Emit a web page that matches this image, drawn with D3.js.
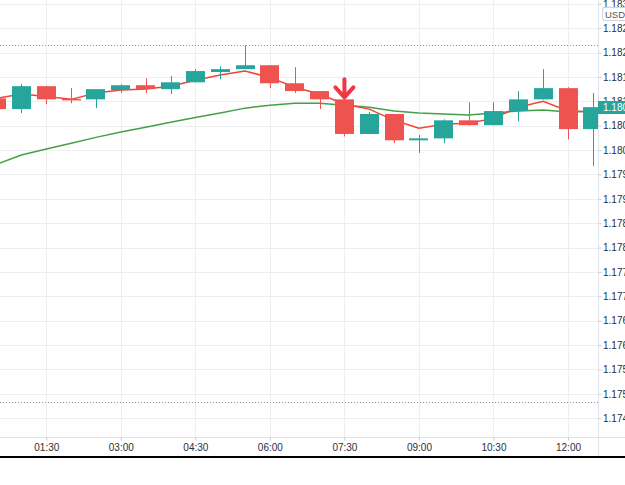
<!DOCTYPE html>
<html>
<head>
<meta charset="utf-8">
<script src="https://cdn.jsdelivr.net/npm/d3@7"></script>
<style>
  html, body { margin: 0; padding: 0; background: #fff; }
  svg { display: block; font-family: Roboto, "Liberation Sans", sans-serif; }
</style>
</head>
<body>
<svg id="chart" width="625" height="485"></svg>
<script>
// 30 minute EURUSD candles
const times = ["00:30","01:00","01:30","02:00","02:30","03:00","03:30","04:00","04:30","05:00",
  "05:30","06:00","06:30","07:00","07:30","08:00","08:30","09:00","09:30","10:00",
  "10:30","11:00","11:30","12:00","12:30"];
const opens  = [1.18106,1.18084,1.18131,1.18105,1.18104,1.18123,1.18133,1.18125,1.18139,1.18160,
  1.18166,1.18174,1.18137,1.18121,1.18104,1.18033,1.18074,1.18020,1.18024,1.18061,
  1.18051,1.18080,1.18104,1.18127,1.18043];
const highs  = [1.18108,1.18135,1.18132,1.18127,1.18125,1.18135,1.18147,1.18152,1.18166,1.18172,
  1.18215,1.18174,1.18170,1.18121,1.18104,1.18078,1.18074,1.18031,1.18063,1.18098,
  1.18098,1.18121,1.18166,1.18129,1.18117];
const lows   = [1.18080,1.18076,1.18094,1.18096,1.18086,1.18117,1.18117,1.18115,1.18139,1.18145,
  1.18166,1.18127,1.18117,1.18084,1.18028,1.18033,1.18014,1.17994,1.18014,1.18051,
  1.18051,1.18059,1.18104,1.18022,1.17967];
const closes = [1.18084,1.18131,1.18104,1.18102,1.18125,1.18133,1.18125,1.18139,1.18162,1.18166,
  1.18174,1.18137,1.18121,1.18104,1.18033,1.18074,1.18020,1.18024,1.18061,1.18051,
  1.18080,1.18104,1.18127,1.18043,1.18088];
const fastMA = [1.18106,1.18115,1.18110,1.18104,1.18117,1.18123,1.18125,1.18131,1.18143,1.18154,
  1.18162,1.18149,1.18129,1.18115,1.18094,1.18084,1.18061,1.18045,1.18053,1.18055,
  1.18065,1.18088,1.18100,1.18080,1.18078];
const slowMA = [1.17971,1.17990,1.18002,1.18014,1.18026,1.18037,1.18047,1.18057,1.18067,1.18076,
  1.18086,1.18092,1.18096,1.18096,1.18092,1.18088,1.18080,1.18076,1.18074,1.18072,
  1.18076,1.18080,1.18082,1.18078,1.18080];
const priceTicks = [1.1830,1.1825,1.1820,1.1815,1.1810,1.1805,1.1800,1.1795,1.1790,1.1785,
  1.1780,1.1775,1.1770,1.1765,1.1760,1.1755,1.1750,1.1745];
const timeTicks = ["01:30","03:00","04:30","06:00","07:30","09:00","10:30","12:00"];
const dottedLevels = [1.18215, 1.17483];
const sellSignals = ["07:30"];
const currency = "USD";

const W = 625, plotRight = 598, plotBottom = 437, axisBottom = 456;
const UP = "#26a69a", DOWN = "#ef5350";
const LABEL_FONT = "'Liberation Sans', Arial, sans-serif";

const parse = d3.timeParse("%H:%M");
const candles = times.map((t, i) => ({
  t: parse(t), o: opens[i], h: highs[i], l: lows[i], c: closes[i]
}));

const x = d3.scaleTime()
  .domain([parse("01:30"), parse("12:00")])
  .range([46.3, 568]);
const y = d3.scaleLinear()
  .domain([1.1745, 1.1830])
  .range([418.2, 3.8]);
const step = x(parse("02:00")) - x(parse("01:30"));
const bodyW = Math.round(step * 0.75);

const svg = d3.select("#chart");
svg.append("rect").attr("width", W).attr("height", 485).attr("fill", "#fff");

svg.append("clipPath").attr("id", "plot-clip")
  .append("rect").attr("width", plotRight).attr("height", plotBottom);

const plot = svg.append("g").attr("clip-path", "url(#plot-clip)");

// grid
plot.append("g").selectAll("line").data(priceTicks).join("line")
  .attr("x1", 0).attr("x2", plotRight)
  .attr("y1", d => Math.round(y(d)) + 0.5).attr("y2", d => Math.round(y(d)) + 0.5)
  .attr("stroke", "#eceef2");
plot.append("g").selectAll("line").data(timeTicks).join("line")
  .attr("x1", d => Math.round(x(parse(d))) + 0.5).attr("x2", d => Math.round(x(parse(d))) + 0.5)
  .attr("y1", 0).attr("y2", plotBottom)
  .attr("stroke", "#eceef2");

// dotted levels
plot.append("g").selectAll("line").data(dottedLevels).join("line")
  .attr("x1", 0).attr("x2", plotRight)
  .attr("y1", d => Math.round(y(d)) + 0.5).attr("y2", d => Math.round(y(d)) + 0.5)
  .attr("stroke", "#9598a1").attr("stroke-dasharray", "1,2");

// moving averages (behind candles)
const line = d3.line().x((d, i) => x(candles[i].t)).y(d => y(d));
plot.append("path").datum(slowMA).attr("d", line)
  .attr("fill", "none").attr("stroke", "#43a047").attr("stroke-width", 1.5);
plot.append("path").datum(fastMA).attr("d", line)
  .attr("fill", "none").attr("stroke", "#f44336").attr("stroke-width", 1.5);

// candles
const cg = plot.append("g").selectAll("g").data(candles).join("g");
cg.append("line")
  .attr("x1", d => Math.round(x(d.t)) + 0.5).attr("x2", d => Math.round(x(d.t)) + 0.5)
  .attr("y1", d => y(d.h)).attr("y2", d => y(d.l))
  .attr("stroke", d => d.c >= d.o ? UP : DOWN);
cg.append("rect")
  .attr("x", d => Math.round(x(d.t) - bodyW / 2))
  .attr("y", d => y(Math.max(d.o, d.c)))
  .attr("width", bodyW)
  .attr("height", d => Math.max(1.5, Math.abs(y(d.o) - y(d.c))))
  .attr("fill", d => d.c >= d.o ? UP : DOWN);

// sell arrows
sellSignals.forEach(s => {
  const d = candles[times.indexOf(s)];
  const cx = x(d.t), tip = y(d.h) - 2;
  plot.append("path")
    .attr("d", `M${cx},${tip - 18}L${cx},${tip - 1}M${cx - 9},${tip - 10}L${cx},${tip}L${cx + 9},${tip - 10}`)
    .attr("fill", "none").attr("stroke", "#f23645").attr("stroke-width", 4)
    .attr("stroke-linecap", "round").attr("stroke-linejoin", "round");
});

// price axis
svg.append("line")
  .attr("x1", plotRight + 0.5).attr("x2", plotRight + 0.5)
  .attr("y1", 0).attr("y2", axisBottom)
  .attr("stroke", "#e0e3eb");
const yAxis = svg.append("g")
  .attr("transform", `translate(${plotRight + 0.5},0)`)
  .call(d3.axisRight(y).tickValues(priceTicks).tickSize(3).tickFormat(d3.format(".4f")));
yAxis.select(".domain").remove();
yAxis.selectAll(".tick line").attr("stroke", "#c8cbd3");
yAxis.selectAll(".tick text").attr("x", 4.5).attr("fill", "#2a2e39").attr("font-size", 10)
  .attr("font-family", LABEL_FONT);

// currency tag
svg.append("rect").attr("x", 602.5).attr("y", 7.5).attr("width", 30).attr("height", 13)
  .attr("rx", 2).attr("fill", "#fff").attr("stroke", "#d1d4dc");
svg.append("text").attr("x", 605).attr("y", 17.5).attr("font-size", 9.5)
  .attr("font-family", LABEL_FONT).attr("fill", "#555").text(currency);

// last price tag
const last = candles[candles.length - 1];
const ly = y(last.c);
svg.append("rect").attr("x", plotRight).attr("y", Math.round(ly) - 6).attr("width", W - plotRight)
  .attr("height", 13).attr("fill", last.c >= last.o ? UP : DOWN);
svg.append("text").attr("x", plotRight + 5).attr("y", ly).attr("dy", "0.35em")
  .attr("font-size", 10).attr("font-family", LABEL_FONT)
  .attr("fill", "#fff").text(d3.format(".5f")(last.c));

// time axis
svg.append("line").attr("x1", 0).attr("x2", W)
  .attr("y1", plotBottom + 0.5).attr("y2", plotBottom + 0.5).attr("stroke", "#e0e3eb");
const xAxis = svg.append("g")
  .attr("transform", `translate(0,${plotBottom + 0.5})`)
  .call(d3.axisBottom(x).tickValues(timeTicks.map(parse)).tickSize(3).tickFormat(d3.timeFormat("%H:%M")));
xAxis.select(".domain").remove();
xAxis.selectAll(".tick line").attr("stroke", "#c8cbd3");
xAxis.selectAll(".tick text").attr("y", 6).attr("fill", "#2a2e39").attr("font-size", 10)
  .attr("font-family", LABEL_FONT);

svg.append("rect").attr("x", 0).attr("y", axisBottom).attr("width", W).attr("height", 2).attr("fill", "#000");
</script>
</body>
</html>
